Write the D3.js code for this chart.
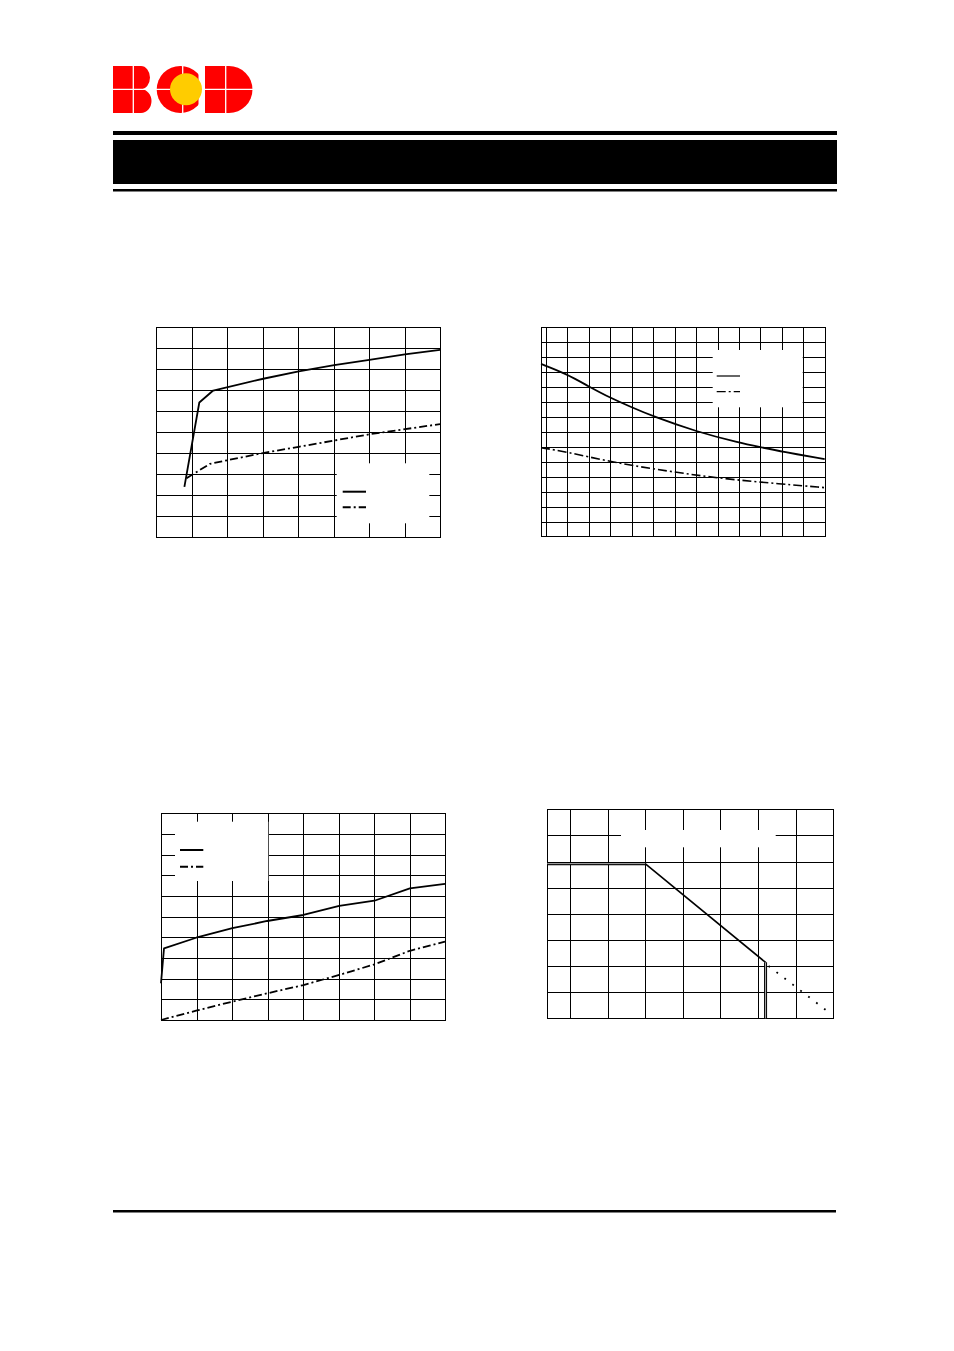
<!DOCTYPE html>
<html><head><meta charset="utf-8">
<script src="https://cdn.jsdelivr.net/npm/d3@7"></script>
<style>body{margin:0;background:#fff}svg{display:block}</style>
</head><body>
<script>
// ---------- DATA (grid units) ----------
// Chart 1 (top-left): 8 x 10 grid
const c1XTicks = [1,2,3,4,5,6,7];
const c1YTicks = [1,2,3,4,5,6,7,8,9];
const c1SolidX = [0.80, 1.22, 1.61, 3.02, 4.02, 5.02, 6.01, 7.01, 8.00];
const c1SolidY = [2.40, 6.42, 6.99, 7.55, 7.90, 8.20, 8.45, 8.71, 8.93];
const c1DashX  = [0.86, 0.96, 1.52, 3.01, 4.02, 6.03, 8.00];
const c1DashY  = [2.81, 2.92, 3.50, 4.01, 4.31, 4.91, 5.39];

// Chart 2 (top-right): 13 x 14 grid
const c2XTicks = [0,1,2,3,4,5,6,7,8,9,10,11,12];
const c2YTicks = [1,2,3,4,5,6,7,8,9,10,11,12,13];
const c2SolidX = [-0.23, 0.93, 1.99, 3.00, 4.00, 5.00, 7.02, 9.01, 10.02, 11.02, 13.00];
const c2SolidY = [11.55, 10.90, 10.05, 9.28, 8.65, 8.04, 7.02, 6.28, 5.98, 5.68, 5.19];
const c2DashX  = [-0.23, 0.93, 3.00, 5.00, 8.00, 11.02, 13.00];
const c2DashY  = [5.95, 5.68, 5.01, 4.53, 3.90, 3.52, 3.28];

// Chart 3 (bottom-left): 8 x 10 grid
const c3XTicks = [1,2,3,4,5,6,7];
const c3YTicks = [1,2,3,4,5,6,7,8,9];
const c3SolidX = [0.00, 0.085, 0.99, 2.01, 2.99, 4.01, 5.02, 6.01, 7.01, 8.00];
const c3SolidY = [1.78, 3.47, 3.98, 4.44, 4.79, 5.08, 5.52, 5.77, 6.37, 6.59];
const c3DashX  = [0.00, 0.99, 2.01, 2.99, 4.01, 5.02, 6.01, 7.01, 8.00];
const c3DashY  = [0.00, 0.45, 0.89, 1.29, 1.69, 2.18, 2.69, 3.35, 3.79];

// Chart 4 (bottom-right): temperature axis -40..150, 8 rows
const c4XTicks = [-25, 0, 25, 50, 75, 100, 125];
const c4YTicks = [1,2,3,4,5,6,7];
const c4SolidT = [-40, 25, 105, 105];
const c4SolidP = [5.92, 5.92, 2.14, 0];
const c4DotT   = [107, 145];
const c4DotP   = [2.00, 0.32];

// ---------- DRAW ----------
const svg = d3.select("body").append("svg").attr("width",954).attr("height",1351);

// header / footer rules
svg.append("rect").attr("x",113).attr("y",131).attr("width",724).attr("height",4).attr("fill","#000");
svg.append("rect").attr("x",113).attr("y",140).attr("width",724).attr("height",44).attr("fill","#000");
svg.append("rect").attr("x",113).attr("y",189).attr("width",724).attr("height",2.5).attr("fill","#000");
svg.append("rect").attr("x",113).attr("y",1210).attr("width",723).attr("height",2.5).attr("fill","#000");

// logo
const red="#ff0000", yel="#ffcc00";
const lg = svg.append("g");
lg.append("path").attr("d","M113,66H141A9,11.6 0 0 1 141,89.2A10.5,11.9 0 0 1 141,113H113Z").attr("fill",red);
lg.append("clipPath").attr("id","cclip").append("rect").attr("x",150).attr("y",60).attr("width",48.5).attr("height",60);
lg.append("circle").attr("cx",180.3).attr("cy",89.5).attr("r",23.6).attr("fill",red).attr("clip-path","url(#cclip)");
lg.append("path").attr("d","M205,66H229A23.5,23.5 0 0 1 229,113H205Z").attr("fill",red);
lg.append("line").attr("x1",113).attr("x2",254).attr("y1",89.3).attr("y2",89.3).attr("stroke","#fff").attr("stroke-width",1.3);
[133.3,182.7,225.7].forEach(xx=>lg.append("line").attr("x1",xx).attr("x2",xx).attr("y1",65).attr("y2",114).attr("stroke","#fff").attr("stroke-width",1.3));
lg.append("circle").attr("cx",186).attr("cy",89.3).attr("r",16).attr("fill",yel);

function chart(o){
  const x = d3.scaleLinear().domain(o.xd).range(o.xr);
  const y = d3.scaleLinear().domain(o.yd).range(o.yr);
  const g = svg.append("g");
  const h = o.yr[0]-o.yr[1], w = o.xr[1]-o.xr[0];
  const gx = g.append("g").attr("transform",`translate(0,${o.yr[0]})`)
    .call(d3.axisBottom(x).tickValues(o.xt).tickSize(-h).tickFormat(""));
  const gy = g.append("g").attr("transform",`translate(${o.xr[0]},0)`)
    .call(d3.axisLeft(y).tickValues(o.yt).tickSize(-w).tickFormat(""));
  [gx,gy].forEach(a=>{a.select(".domain").remove();a.selectAll("line").attr("stroke","#000").attr("stroke-width",1).attr("shape-rendering","crispEdges");});
  g.append("rect").attr("x",Math.round(o.xr[0])+0.5).attr("y",Math.round(o.yr[1])+0.5)
    .attr("width",Math.round(w)).attr("height",Math.round(h))
    .attr("fill","none").attr("stroke","#000").attr("stroke-width",1).attr("shape-rendering","crispEdges");
  if(o.box){
    g.append("rect").attr("x",o.box[0]).attr("y",o.box[1]).attr("width",o.box[2]-o.box[0]).attr("height",o.box[3]-o.box[1]).attr("fill","#fff");
  }
  return {g,x,y};
}
function series(c, xs, ys, style, curve){
  const pts = xs.map((v,i)=>[v,ys[i]]);
  const line = d3.line().x(d=>c.x(d[0])).y(d=>c.y(d[1])).curve(curve||d3.curveLinear);
  return c.g.append("path").attr("d",line(pts)).attr("fill","none").attr("stroke","#000")
    .attr("stroke-width",style.w).attr("stroke-dasharray",style.dash||null)
    .attr("stroke-linejoin","round");
}
function legendLine(c, x1,x2,yy,style){
  c.g.append("line").attr("x1",x1).attr("x2",x2).attr("y1",yy).attr("y2",yy)
   .attr("stroke","#000").attr("stroke-width",style.w).attr("stroke-dasharray",style.dash||null);
}

// Chart 1
const C1 = chart({xd:[0,8],xr:[156,440],yd:[0,10],yr:[537.3,327.3],xt:c1XTicks,yt:c1YTicks,box:[336.7,463.3,429.3,523.3]});
series(C1,c1SolidX,c1SolidY,{w:1.8});
series(C1,c1DashX,c1DashY,{w:1.8,dash:"8,3,2,3"});
legendLine(C1,342.7,366,491.7,{w:2});
legendLine(C1,342.7,366,507.3,{w:2,dash:"8,3,2,3"});

// Chart 2
const C2 = chart({xd:[-0.233,13],xr:[541,824.7],yd:[0,14],yr:[536.7,327.3],xt:c2XTicks,yt:c2YTicks,box:[712.7,350,802.7,407.3]});
series(C2,c2SolidX,c2SolidY,{w:1.8},d3.curveBasis);
series(C2,c2DashX,c2DashY,{w:1.6,dash:"9,3,2,3"},d3.curveBasis);
legendLine(C2,716.7,740,376,{w:1.2});
legendLine(C2,716.7,740,391.7,{w:1.2,dash:"9,3,2,3"});

// Chart 3
const C3 = chart({xd:[0,8],xr:[161,445],yd:[0,10],yr:[1020,813.3],xt:c3XTicks,yt:c3YTicks,box:[175,821.7,268.3,881]});
series(C3,c3SolidX,c3SolidY,{w:1.8});
series(C3,c3DashX,c3DashY,{w:1.8,dash:"8,3,2,3"});
legendLine(C3,180,203.3,850,{w:2});
legendLine(C3,180,203.3,866.7,{w:2,dash:"8,3,2,3"});

// Chart 4
const C4 = chart({xd:[-40,150],xr:[547.3,833.3],yd:[0,8],yr:[1018.3,809.3],xt:c4XTicks,yt:c4YTicks,box:[621,830,775.7,847.3]});
series(C4,c4SolidT,c4SolidP,{w:1.6});
// hollow look of the flat and vertical segments
[[0,2],[2,4]].forEach(([a,b])=>{
  series(C4,c4SolidT.slice(a,b),c4SolidP.slice(a,b),{w:3});
  series(C4,c4SolidT.slice(a,b),c4SolidP.slice(a,b),{w:1}).attr("stroke","#b0b0b0");
});
series(C4,c4DotT,c4DotP,{w:1.8,dash:"1.8,8.2"});
</script>
</body></html>
